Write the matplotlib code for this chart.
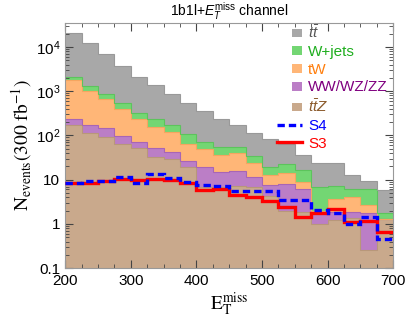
import numpy as np
import matplotlib
matplotlib.use("Agg")
import matplotlib.pyplot as plt
from matplotlib.patches import Patch, Rectangle
from matplotlib.lines import Line2D
from matplotlib.legend_handler import HandlerPatch
from matplotlib.ticker import MultipleLocator, FixedLocator, FixedFormatter, NullFormatter

plt.rcParams['font.family'] = ['Liberation Sans', 'DejaVu Sans']
plt.rcParams['mathtext.fontset'] = 'custom'
plt.rcParams['mathtext.rm'] = 'Liberation Sans'
plt.rcParams['mathtext.it'] = 'Liberation Sans:italic'

## binning: 20 bins of 25 GeV
edges = np.arange(200, 701, 25)

# backgrounds (events per bin, 300 fb^-1)
ttZ = [174, 112, 93, 65, 51, 33, 30, 19.5, 6.9, 7.0, 7.2, 7.0, 4.3, 2.0, 1.9, 1.0, 1.2, 1.35, 0.26, 1.26]
VV = [56, 58, 54, 32, 21, 18, 13, 7.5, 12.6, 8.0, 8.7, 4.6, 3.1, 5.9, 4.4, 1.0, 0.7, 0.55, 1.54, 0.0]
tW = [1550, 850, 518, 293, 158, 101, 78, 38, 29.5, 21, 23.6, 12.8, 5.3, 6.0, 2.6, 0.0, 1.7, 2.1, 0.86, 0.0]
Wjets = [270, 310, 205, 145, 85, 78, 53, 42, 23, 19, 14.5, 10, 6.3, 8.5, 7.6, 4.7, 3.6, 2.3, 3.6, 0.48]
tt = [19000, 10700, 6030, 3165, 1785, 1130, 696, 428, 293, 175, 118, 77, 62, 40.6, 19.5, 17.3, 16.8, 6.4, 3.1, 4.06]

# signals
S3 = [8.5, 8.5, 9.4, 10.5, 9.6, 10.5, 9.8, 8.2, 5.8, 6.3, 4.5, 4.0, 3.3, 2.4, 1.4, 1.73, 2.16, 1.12, 1.18, 0.66]
S4 = [8.2, 9.3, 9.3, 11.6, 8.5, 13.2, 11.0, 9.0, 7.6, 7.3, 5.6, 5.6, 5.6, 3.5, 3.4, 2.1, 1.8, 1.0, 1.4, 0.45]

bkg_labels = [r'$t\bar{t}$', 'W+jets', 'tW', 'WW/WZ/ZZ', r'$t\bar{t}Z$']
bkg_colors = ['#a8a8a8', '#73d673', '#ffb677', '#bb7ec6', '#c9a98c']
bkg_edges = ['#999999', '#5cc45c', '#f5a560', '#a865b5', '#b8977a']
text_colors = ['#555555', '#1fae1f', '#ff7f0e', '#800080', '#8b5a2b']

fig = plt.figure(figsize=(4.07, 3.27), dpi=100)
ax = fig.add_axes([0.160, 0.180, 0.806, 0.750])

# stack from the bottom: ttZ, VV, tW, W+jets, tt
layers = [ttZ, VV, tW, Wjets, tt]
cols = bkg_colors[::-1]
ecols = bkg_edges[::-1]
bottom = np.full(len(ttZ), 1e-3)
for vals, c, ec in zip(layers, cols, ecols):
    top = bottom + np.array(vals)
    ax.stairs(top, edges, baseline=bottom, fill=True, color=c, lw=0, zorder=1)
    ax.stairs(top, edges, baseline=None, color=ec, lw=0.8, zorder=1.5)
    bottom = top

ax.stairs(S3, edges, baseline=None, color='#ff0000', lw=2.4, zorder=3)
ax.stairs(S4, edges, baseline=None, color='#0000ff', lw=2.4, ls=(0, (2.2, 1.2)), zorder=4)

ax.set_yscale('log')
ax.set_xlim(200, 700)
ax.set_ylim(0.1, 3.5e4)

ax.xaxis.set_major_locator(MultipleLocator(100))
ax.xaxis.set_minor_locator(MultipleLocator(25))
ax.yaxis.set_major_locator(FixedLocator([0.1, 1, 10, 100, 1000, 10000]))
ax.yaxis.set_major_formatter(FixedFormatter(['0.1', '1', '10', '$10^2$', '$10^3$', '$10^4$']))
ax.yaxis.set_minor_formatter(NullFormatter())
ax.tick_params(which='both', direction='in', top=True, right=True, colors='#444444',
               labelcolor='black', labelsize=11)
ax.tick_params(which='major', length=6, width=0.8)
ax.tick_params(which='minor', length=3, width=0.6)
ax.tick_params(axis='x', pad=4)
for s in ax.spines.values():
    s.set_color('#999999')
    s.set_linewidth(0.8)

ax.set_xlabel(r'$\mathrm{E_T^{miss}}$', fontsize=14, math_fontfamily='stix', labelpad=2)
ax.set_ylabel(r'$\mathrm{N_{events}(300\ fb^{-1})}$', fontsize=14, math_fontfamily='stix', labelpad=1)
ax.set_title(r'1b1l+$E_T^{\rm miss}$ channel', fontsize=10, pad=5)


def small_square(legend, orig_handle, xdescent, ydescent, width, height, fontsize):
    h = height * 0.8
    w = h * 1.2
    return Rectangle((width - w - xdescent, -ydescent + 0.08 * height), w, h)


handles = [Patch(facecolor=c, edgecolor='none') for c in bkg_colors]
handles += [Line2D([], [], color='#0000ff', lw=2.4, ls=(0, (2.2, 1.2))),
            Line2D([], [], color='#ff0000', lw=2.4)]
labels = bkg_labels + ['S4', 'S3']
leg = ax.legend(handles, labels, loc='upper left', bbox_to_anchor=(0.646, 0.995),
                frameon=False, fontsize=11, handlelength=1.63, handletextpad=0.4,
                labelspacing=0.25, borderpad=0, borderaxespad=0,
                handler_map={Patch: HandlerPatch(patch_func=small_square)})
for t, c in zip(leg.get_texts(), text_colors + ['#0000ff', '#ff0000']):
    t.set_color(c)

fig.savefig('out.png', dpi=100)
